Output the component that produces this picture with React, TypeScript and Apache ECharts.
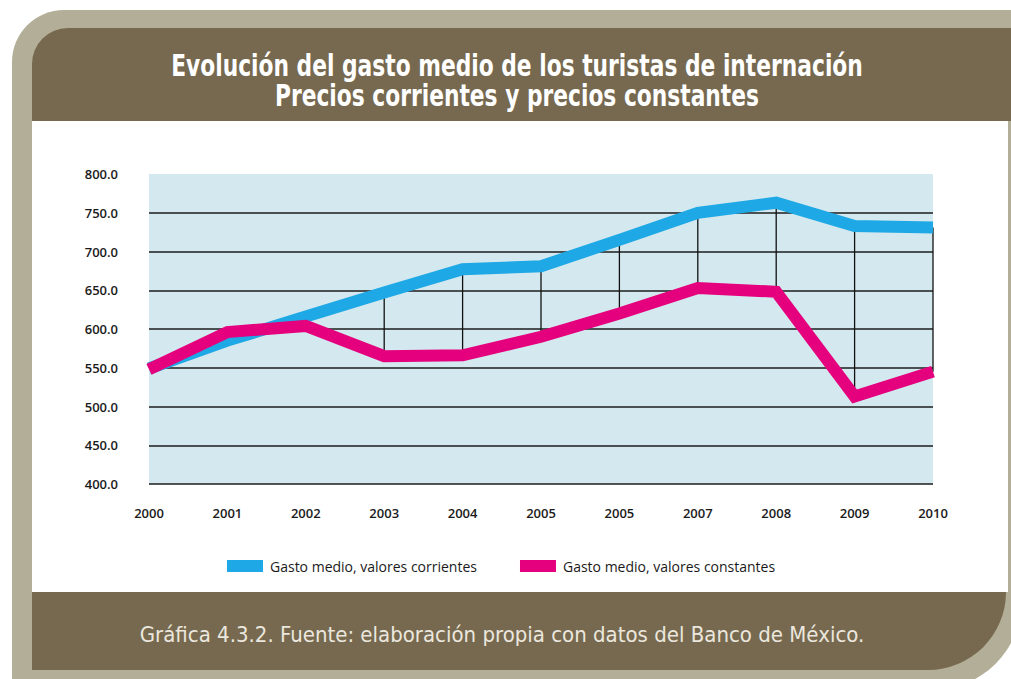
import React, { useEffect, useRef } from "react";
import * as echarts from "echarts";

const years = ["2000", "2001", "2002", "2003", "2004", "2005", "2005", "2007", "2008", "2009", "2010"];
const corrientes = [549, 585, 616, 647, 677, 681, 715, 750, 763, 733, 731];
const constantes = [548, 596, 604, 565, 566, 590, 620, 653, 648, 513, 545];
const dropIndices = [3, 4, 5, 6, 7, 8, 9, 10];
const seriesNames = ["Gasto medio, valores corrientes", "Gasto medio, valores constantes"];
const titleLines = [
  "Evolución del gasto medio de los turistas de internación",
  "Precios corrientes y precios constantes",
];
const caption = "Gráfica 4.3.2. Fuente: elaboración propia con datos del Banco de México.";

const BLUE = "#1ea8e6";
const PINK = "#e5007d";
const FRAME = "#b3ae97";
const BAR = "#76694f";
const NARROW = '"Liberation Sans Narrow", "DejaVu Sans Condensed", "Noto Sans", sans-serif';
const LABEL_FONT = '"Open Sans", "Noto Sans", sans-serif';

export default function App() {
  const ref = useRef<HTMLDivElement>(null);
  useEffect(() => {
    document.body.style.margin = "0";
    document.body.style.background = "#ffffff";
    const chart = echarts.init(ref.current!, null, { renderer: "svg" });
    chart.setOption({
      animation: false,
      backgroundColor: "#ffffff",
      graphic: [
        { type: "rect", z: -10, shape: { x: 12, y: 10, width: 1010, height: 680, r: [52, 0, 90, 0] }, style: { fill: FRAME } },
        { type: "rect", z: -9, shape: { x: 32, y: 28, width: 990, height: 93, r: [36, 0, 0, 0] }, style: { fill: BAR } },
        { type: "rect", z: -9, shape: { x: 32, y: 121, width: 976, height: 471 }, style: { fill: "#ffffff" } },
        { type: "rect", z: -9, shape: { x: 32, y: 592, width: 974, height: 78, r: [0, 0, 78, 0] }, style: { fill: BAR } },
        {
          type: "text", z: 50, x: 517, y: 66, scaleX: 0.865, scaleY: 1.05,
          style: {
            x: 0, y: 0, text: titleLines[0], fill: "#ffffff", align: "center", verticalAlign: "middle",
            font: `bold 28px ${NARROW}`,
          },
        },
        {
          type: "text", z: 50, x: 517, y: 96, scaleX: 0.865, scaleY: 1.05,
          style: {
            x: 0, y: 0, text: titleLines[1], fill: "#ffffff", align: "center", verticalAlign: "middle",
            font: `bold 28px ${NARROW}`,
          },
        },
        {
          type: "text", z: 50, style: {
            x: 502, y: 634, text: caption, fill: "#ebe7de", align: "center", verticalAlign: "middle",
            font: `22px ${NARROW}`,
          },
        },
      ],
      grid: {
        left: 149, right: 78, top: 174, bottom: 195,
        show: true, backgroundColor: "#d4e9ef", borderWidth: 0,
      },
      legend: {
        left: 222, top: 554, itemWidth: 36, itemHeight: 12, itemGap: 43, icon: "rect",
        data: seriesNames,
        textStyle: { fontFamily: LABEL_FONT, fontSize: 14, color: "#1a1a1a", padding: [0, 0, 0, 2] },
      },
      xAxis: {
        type: "category", data: years, boundaryGap: false,
        axisLine: { show: false }, axisTick: { show: false },
        axisLabel: { margin: 22, fontFamily: LABEL_FONT, fontSize: 13, fontWeight: 600, color: "#1a1a1a" },
        splitLine: { show: false },
      },
      yAxis: {
        type: "value", min: 400, max: 800, interval: 50,
        axisLine: { show: false }, axisTick: { show: false },
        axisLabel: {
          margin: 31, fontFamily: LABEL_FONT, fontSize: 13, fontWeight: 600, color: "#1a1a1a",
          formatter: (v: number) => v.toFixed(1),
        },
        splitLine: {
          show: true,
          lineStyle: {
            width: 1.6,
            color: ["#1c1c1c", "#1c1c1c", "#1c1c1c", "#1c1c1c", "#1c1c1c", "#1c1c1c", "#1c1c1c", "#1c1c1c", "rgba(0,0,0,0)"],
          },
        },
      },
      series: [
        {
          type: "custom", silent: true, z: 1,
          encode: { x: 0, y: [1, 2] },
          data: dropIndices.map((i) => [i, corrientes[i], constantes[i]]),
          renderItem: (params: any, api: any) => {
            const a = api.coord([api.value(0), api.value(1)]);
            const b = api.coord([api.value(0), api.value(2)]);
            return {
              type: "line",
              shape: { x1: a[0], y1: a[1], x2: b[0], y2: b[1] },
              style: { stroke: "#111111", lineWidth: 1.3 },
            };
          },
        },
        {
          name: seriesNames[0], type: "line", data: corrientes, symbol: "none", z: 3,
          lineStyle: { color: BLUE, width: 12, join: "miter", cap: "butt" },
          itemStyle: { color: BLUE },
        },
        {
          name: seriesNames[1], type: "line", data: constantes, symbol: "none", z: 4,
          lineStyle: { color: PINK, width: 12, join: "miter", cap: "butt" },
          itemStyle: { color: PINK },
        },
      ],
    });
    return () => chart.dispose();
  }, []);
  return <div ref={ref} style={{ position: "absolute", left: 0, top: 0, width: 1011, height: 679 }} />;
}
